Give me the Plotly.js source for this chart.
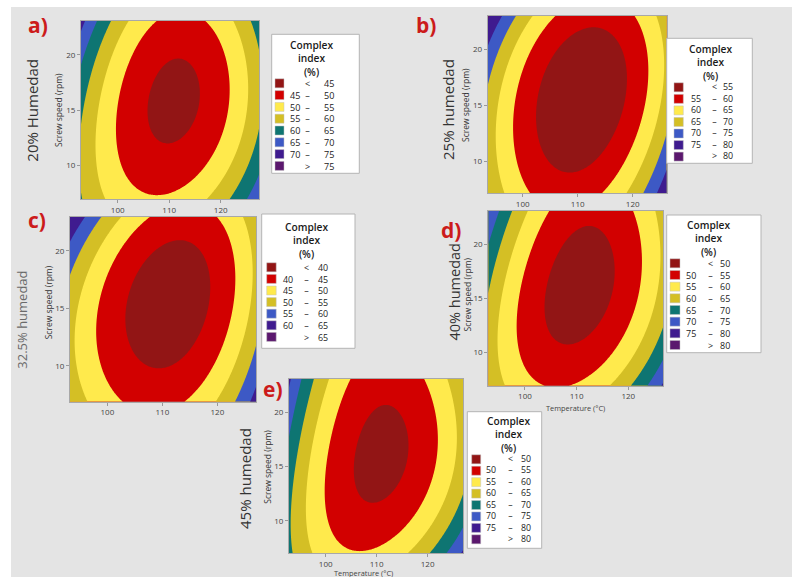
<!DOCTYPE html>
<html><head><meta charset="utf-8">
<script src="https://cdn.plot.ly/plotly-3.0.1.min.js"></script>
<style>html,body{margin:0;padding:0;background:#fff}</style>
</head><body><div id="chart" style="width:792px;height:577px"></div>
<script>
// ---------------- DATA ----------------
// contour levels (Complex index, %) per panel
const levelsA = [45,50,55,60,65,70,75];
const levelsB = [55,60,65,70,75,80];
const levelsC = [40,45,50,55,60,65];
const levelsD = [50,55,60,65,70,75,80];
const levelsE = [50,55,60,65,70,75,80];

// points read on the contour boundaries: temperature (°C), screw speed (rpm), complex index (%)
const tempA  = [112.07,115.11,115.59,113.21,109.39,106.35,105.87,108.25,
  104.66,101.42,99.94,99.68,100.78,105.63,112.10,118.58,121.49,121.81,119.22,116.31,
  102.52,98.51,96.25,95.92,97.86,120.19,123.75,125.37,125.05,121.81,
  99.81,95.60,92.88,127.44,125.37,122.46,
  96.76,94.30,92.88,127.44,126.34,125.05,
  94.50,92.88,127.44,126.99,
  92.88,127.44,127.44,92.88];
const speedA = [18.78,17.47,14.87,12.50,11.75,13.06,15.66,18.03,
  23.06,18.93,15.00,12.28,9.87,7.51,8.66,11.38,15.00,18.02,21.34,23.06,
  23.06,18.93,15.00,11.38,6.94,6.94,11.38,15.00,18.93,23.06,
  23.06,19.53,15.30,12.28,9.26,6.94,
  23.06,21.34,19.68,9.57,8.06,6.94,
  23.06,22.10,7.75,6.94,
  23.06,6.94,23.06,6.94];
const indexA = [45,45,45,45,45,45,45,45,
  50,50,50,50,50,50,50,50,50,50,50,50,
  55,55,55,55,55,55,55,55,55,55,
  60,60,60,60,60,60,
  65,65,65,65,65,65,
  70,70,70,70,
  72,72,58,58.5];

const tempB  = [112.76,117.93,118.78,114.81,108.33,103.16,102.31,106.28,
  105.27,99.82,98.30,98.91,101.64,113.45,119.52,122.24,122.85,120.42,
  102.24,97.09,95.88,95.88,95.88,119.52,122.55,124.36,125.27,124.67,
  99.52,95.58,93.64,126.18,124.36,121.33,
  96.97,93.64,126.18,124.06,
  93.64,126.18,126.18,93.64];
const speedB = [21.39,19.07,14.49,10.33,9.03,11.35,15.93,20.08,
  23.00,18.46,15.00,11.00,7.12,7.12,11.00,15.00,19.96,23.00,
  23.00,18.46,15.00,11.00,7.12,7.12,11.00,15.00,19.96,23.00,
  23.00,19.36,15.78,12.49,9.51,7.12,
  23.00,21.00,8.91,7.12,
  23.00,7.12,23.00,7.12];
const indexB = [55,55,55,55,55,55,55,55,
  60,60,60,60,60,60,60,60,60,60,
  65,65,65,65,65,65,65,65,65,65,
  70,70,70,70,70,70,
  75,75,75,75,
  78,78,67.5,67.5];

const tempC  = [112.00,117.55,118.31,114.67,108.75,104.03,103.27,106.90,
  108.36,99.88,98.48,98.67,102.91,112.00,119.27,122.91,122.91,120.18,
  103.82,96.85,95.03,94.73,95.33,119.88,124.12,125.33,125.64,125.33,
  98.67,95.64,93.21,127.03,125.33,122.91,
  96.48,93.21,127.03,125.94,
  93.21,127.03,127.03,93.21];
const speedC = [20.75,18.65,14.57,10.86,9.69,11.76,15.84,19.55,
  22.97,19.06,15.00,11.81,6.88,6.88,9.78,15.00,19.06,22.97,
  22.97,19.06,15.00,9.78,6.88,6.88,9.78,15.00,20.51,22.97,
  22.97,19.64,16.16,12.68,9.20,6.88,
  22.97,21.09,8.62,6.88,
  22.97,6.88,22.97,6.88];
const indexC = [40,40,40,40,40,40,40,40,
  45,45,45,45,45,45,45,45,45,45,
  50,50,50,50,50,50,50,50,50,50,
  55,55,55,55,55,55,
  60,60,60,60,
  62.5,62.5,52.5,52.5];

const tempD  = [112.48,116.84,117.57,114.25,108.81,104.45,103.72,107.05,
  103.87,100.32,98.71,99.68,100.80,105.00,113.23,118.39,121.61,122.58,122.26,121.61,
  100.97,96.77,95.48,95.81,96.45,115.81,122.58,125.81,125.48,124.84,
  98.39,95.16,92.90,126.77,124.19,119.68,
  94.84,92.90,126.77,124.52,
  93.23,92.90,126.77,126.26,
  92.90,126.77,126.77,92.90];
const speedD = [20.17,18.32,14.66,11.35,10.32,12.17,15.83,19.14,
  23.07,18.37,12.85,9.79,6.96,6.96,8.56,11.63,15.30,17.91,21.44,23.07,
  23.07,18.37,14.39,9.79,6.96,6.96,10.71,15.00,19.90,23.07,
  23.07,20.21,17.45,12.55,9.79,6.96,
  23.07,21.13,9.17,6.96,
  23.07,22.67,7.33,6.96,
  23.07,6.96,23.07,6.96];
const indexD = [50,50,50,50,50,50,50,50,
  55,55,55,55,55,55,55,55,55,55,55,55,
  60,60,60,60,60,60,60,60,60,60,
  65,65,65,65,65,65,
  70,70,70,70,
  75,75,75,75,
  77,77,62.5,62];

const tempE  = [112.20,115.52,116.07,113.52,109.37,106.05,105.50,108.05,
  103.46,101.50,100.20,100.85,107.06,113.27,119.15,121.76,121.76,119.15,
  100.85,97.91,95.95,96.27,96.93,116.86,122.42,125.69,125.03,123.73,
  98.56,95.29,94.31,93.33,126.99,123.73,120.46,
  95.95,92.81,126.99,123.73,
  93.99,92.81,126.99,126.01,
  92.81,126.99,126.99,92.81];
const speedE = [19.02,17.62,14.84,12.32,11.53,12.94,15.71,18.24,
  23.07,19.29,14.69,11.01,7.33,8.56,12.24,16.23,19.91,23.07,
  23.07,19.29,14.69,10.09,7.02,7.02,10.09,14.69,19.29,23.07,
  23.07,17.76,13.16,7.02,12.24,9.17,7.02,
  23.07,19.91,9.48,7.02,
  23.07,22.36,7.94,7.02,
  23.07,7.02,23.07,7.02];
const indexE = [50,50,50,50,50,50,50,50,
  55,55,55,55,55,55,55,55,55,55,
  60,60,60,60,60,60,60,60,60,60,
  65,65,65,65,65,65,65,
  70,70,70,70,
  75,75,75,75,
  77,77,62,66.5];

const tempTicks = [100,110,120];
const speedTicks = [10,15,20];

// ---------------- STYLE ----------------
const DR='#921515', RD='#D20000', YE='#FFEA4C', OL='#D4BF25', TE='#0E7572', BL='#3D59C5', IN='#3F1B8F', PU='#5B186E';
const colorsA=[DR,RD,YE,OL,TE,BL,IN,PU];
const colorsB=[DR,RD,YE,OL,BL,IN,PU];
const colorsC=[DR,RD,YE,OL,BL,IN,PU];
const colorsD=[DR,RD,YE,OL,TE,BL,IN,PU];
const colorsE=[DR,RD,YE,OL,TE,BL,IN,PU];

const W=792,H=577;
const FX=p=>p/W, FY=p=>1-p/H;
const FF='Open Sans, sans-serif';

const panels=[
 {n:'',T:tempA,S:speedA,Z:indexA,lv:levelsA,col:colorsA,dom:[81,259,21,199],xr:[92.88,127.44],yr:[6.94,23.06],
  leg:{box:[271.7,34.3,359.3,173.3],tx:311.7,ty:58.7,r0:83.3,dr:11.8,sw:[275,284],c1:295,cd:306.7,c2:328.7},
  lab:['a)',37.5,25.5],side:['20% Humedad',31.7,110,15,'#333'],yl:[59,110],xl:null},
 {n:'2',T:tempB,S:speedB,Z:indexB,lv:levelsB,col:colorsB,dom:[487.7,666.7,16,193.3],xr:[93.64,126.18],yr:[7.12,23.0],
  leg:{box:[666.7,38.3,752.3,163.3],tx:710,ty:62.5,r0:87.3,dr:11.55,sw:[674,683.3],c1:696,cd:713.3,c2:728},
  lab:['b)',426,25],side:['25% humedad',448,110,15,'#333'],yl:[465,105],xl:null},
 {n:'3',T:tempC,S:speedC,Z:indexC,lv:levelsC,col:colorsC,dom:[70,256,216.7,401.7],xr:[93.21,127.03],yr:[6.88,22.97],
  leg:{box:[261.7,214,355,348.3],tx:306.7,ty:240,r0:267.3,dr:11.6,sw:[266.7,276.2],c1:288.3,cd:305,c2:323.3},
  lab:['c)',37,220],side:['32.5% humedad',21.7,320,13,'#6a6a6a'],yl:[48.3,302],xl:null},
 {n:'4',T:tempD,S:speedD,Z:indexD,lv:levelsD,col:colorsD,dom:[488.3,663.3,210.7,385.7],xr:[92.9,126.77],yr:[6.96,23.07],
  leg:{box:[666.7,215,761,352.7],tx:708.3,ty:238.7,r0:263.3,dr:11.67,sw:[670,680],c1:690.7,cd:709,c2:725},
  lab:['d)',451,229.7],side:['40% humedad',454.5,292,14.5,'#333'],yl:[466.5,295],xl:[575,407.7]},
 {n:'5',T:tempE,S:speedE,Z:indexE,lv:levelsE,col:colorsE,dom:[289,463.3,379,553.3],xr:[92.81,126.99],yr:[7.02,23.07],
  leg:{box:[467.3,411.7,541.7,548.3],tx:508.8,ty:434.3,r0:459.3,dr:11.43,sw:[471.7,480.7],c1:491,cd:509.3,c2:526},
  lab:['e)',272.5,389],side:['45% humedad',245,479,15,'#333'],yl:[266.7,467],xl:[363,572.8]}
];

// ---------------- response surface: weighted least-squares cubic through the read points ----------------
function basis(T,S){const u=(T-110)/17,v=(S-15)/8;return [1,u,v,u*u,u*v,v*v,u*u*u,u*u*v,u*v*v,v*v*v];}
function solve(M,b){const n=b.length;
 for(let i=0;i<n;i++){let p=i;for(let r=i+1;r<n;r++)if(Math.abs(M[r][i])>Math.abs(M[p][i]))p=r;
  [M[i],M[p]]=[M[p],M[i]];[b[i],b[p]]=[b[p],b[i]];
  for(let r=i+1;r<n;r++){const f=M[r][i]/M[i][i];for(let c=i;c<n;c++)M[r][c]-=f*M[i][c];b[r]-=f*b[i];}}
 const x=new Array(n).fill(0);
 for(let i=n-1;i>=0;i--){let s=b[i];for(let c=i+1;c<n;c++)s-=M[i][c]*x[c];x[i]=s/M[i][i];}
 return x;}
function fit(T,S,Z,lv){const n=10,M=[...Array(n)].map(()=>new Array(n).fill(0)),b=new Array(n).fill(0);
 for(let k=0;k<T.length;k++){
  const li=lv.indexOf(Z[k]);
  const w=li<0?0.3:(li<=1?4:(li===2?2:1));
  const p=basis(T[k],S[k]);
  for(let i=0;i<n;i++){b[i]+=w*p[i]*Z[k];for(let j=0;j<n;j++)M[i][j]+=w*p[i]*p[j];}}
 for(let i=0;i<n;i++)M[i][i]+=1e-4;
 const c=solve(M,b);
 return (t,s)=>{const q=basis(t,s);let z=0;for(let k=0;k<n;k++)z+=c[k]*q[k];return z;};}
function stepScale(cols){const nc=cols.length-1,out=[];
 cols.forEach((c,k)=>{const lo=k===0?0:(k-0.5)/nc+1e-4,hi=k===nc?1:(k+0.5)/nc-1e-4;out.push([lo,c],[hi,c]);});
 return out;}

const traces=[],shapes=[],ann=[];
const layout={width:W,height:H,margin:{l:0,r:0,t:0,b:0},paper_bgcolor:'#ffffff',plot_bgcolor:'rgba(0,0,0,0)',
 showlegend:false,font:{family:FF}};
shapes.push({type:'rect',xref:'paper',yref:'paper',x0:FX(11),x1:1,y0:0,y1:FY(7),fillcolor:'#e4e4e4',line:{width:0},layer:'below'});

const A0=(o)=>Object.assign({xref:'paper',yref:'paper',showarrow:false,xanchor:'center',yanchor:'middle',borderpad:0},o);
panels.forEach(p=>{
 const f=fit(p.T,p.S,p.Z,p.lv);
 const N=161,gx=[],gy=[],gz=[];
 for(let i=0;i<N;i++){gx.push(p.xr[0]+(p.xr[1]-p.xr[0])*i/(N-1));gy.push(p.yr[0]+(p.yr[1]-p.yr[0])*i/(N-1));}
 for(let j=0;j<N;j++){const row=[];for(let i=0;i<N;i++)row.push(f(gx[i],gy[j]));gz.push(row);}
 const lv=p.lv;
 traces.push({type:'contour',x:gx,y:gy,z:gz,xaxis:'x'+p.n,yaxis:'y'+p.n,autocontour:false,
  contours:{start:lv[0],end:lv[lv.length-1],size:5,coloring:'fill',showlines:false},
  line:{width:0,smoothing:1.3},colorscale:stepScale(p.col),showscale:false,hoverinfo:'skip'});
 const ax={showgrid:false,zeroline:false,showline:true,mirror:true,linecolor:'#a8a8a8',linewidth:1,
  ticks:'outside',ticklen:3,tickcolor:'#999',tickfont:{family:FF,size:8,color:'#444'}};
 layout['xaxis'+p.n]=Object.assign({},ax,{domain:[FX(p.dom[0]),FX(p.dom[1])],range:p.xr,tickvals:tempTicks,anchor:'y'+p.n});
 layout['yaxis'+p.n]=Object.assign({},ax,{domain:[FY(p.dom[3]),FY(p.dom[2])],range:p.yr,tickvals:speedTicks,anchor:'x'+p.n});
 // legend box
 const L=p.leg, nr=p.col.length, fs=L.dr/1.3;
 shapes.push({type:'rect',xref:'paper',yref:'paper',x0:FX(L.box[0]),x1:FX(L.box[2]),y0:FY(L.box[3]),y1:FY(L.box[1]),fillcolor:'#ffffff',line:{color:'#b4b4b4',width:1}});
 ann.push(A0({text:'Complex<br>index<br>(%)',x:FX(L.tx),y:FY(L.ty),font:{family:FF,size:10.2,color:'#1a1a1a',weight:600}}));
 p.col.forEach((col,k)=>{
  const yc=L.r0+k*L.dr;
  shapes.push({type:'rect',xref:'paper',yref:'paper',x0:FX(L.sw[0]),x1:FX(L.sw[1]),y0:FY(yc+4.5),y1:FY(yc-4.5),fillcolor:col,line:{color:'#c0c0c0',width:0.5}});
 });
 const c1=[],cd=[],c2=[];
 p.col.forEach((col,k)=>{
  if(k===0){c1.push('\u00a0');cd.push('&lt;');c2.push(String(lv[0]));}
  else if(k===nr-1){c1.push('\u00a0');cd.push('&gt;');c2.push(String(lv[lv.length-1]));}
  else{c1.push(String(lv[k-1]));cd.push('–');c2.push(String(lv[k]));}
 });
 const ym=FY(L.r0+(nr-1)*L.dr/2), nf={family:FF,size:fs,color:'#222'};
 ann.push(A0({text:c1.join('<br>'),x:FX(L.c1),y:ym,font:nf}));
 ann.push(A0({text:cd.join('<br>'),x:FX(L.cd+1),y:ym,font:nf}));
 ann.push(A0({text:c2.join('<br>'),x:FX(L.c2),y:ym,font:nf}));
 ann.push(A0({text:p.lab[0],x:FX(p.lab[1]),y:FY(p.lab[2]),font:{family:FF,size:21,color:'#cc1b1b',weight:700}}));
 ann.push(A0({text:p.side[0],x:FX(p.side[1]),y:FY(p.side[2]),textangle:-90,font:{family:FF,size:p.side[3],color:p.side[4]}}));
 ann.push(A0({text:'Screw speed (rpm)',x:FX(p.yl[0]),y:FY(p.yl[1]),textangle:-90,font:{family:FF,size:8.5,color:'#333'}}));
 if(p.xl)ann.push(A0({text:'Temperature (°C)',x:FX(p.xl[0]),y:FY(p.xl[1]),font:{family:FF,size:7.4,color:'#444'}}));
});
layout.shapes=shapes;layout.annotations=ann;
Plotly.newPlot('chart',traces,layout,{staticPlot:true,displayModeBar:false});
</script></body></html>
